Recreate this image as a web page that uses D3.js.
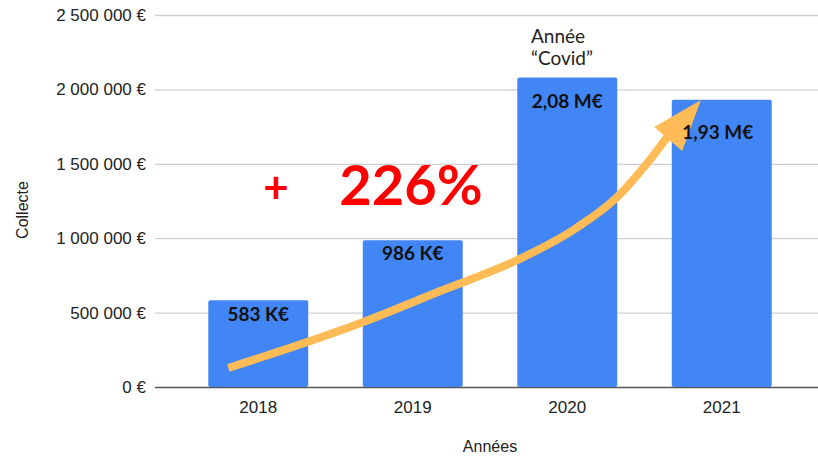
<!DOCTYPE html>
<html lang="fr">
<head>
  <meta charset="UTF-8" />
  <title>Collecte par année</title>
  <style>
    body { margin: 0; background: #fff; }
    svg { display: block; }
    .tick text { font-family: "Liberation Sans", Arial, sans-serif; font-size: 17px; fill: #222; }
  </style>
</head>
<body>
  <svg id="chart"></svg>

  <script src="https://d3js.org/d3.v7.min.js"></script>
  <script>
    const W = 818, H = 456;

    // data
    const years = ["2018", "2019", "2020", "2021"];
    const collecte = [583000, 986000, 2080000, 1930000];
    const barLabels = ["583 K€", "986 K€", "2,08 M€", "1,93 M€"];
    const yTicks = [0, 500000, 1000000, 1500000, 2000000, 2500000];
    // growth arrow, in (year index, euros)
    const arrowPath = [[-0.194, 128000], [0.68, 437000], [1.178, 645000], [1.676, 853000],
                       [2.039, 1055000], [2.324, 1277000], [2.518, 1505000], [2.68, 1727000]];
    const arrowHead = [[2.865, 1929000], [2.563, 1747000], [2.744, 1586000]];

    const plot = {left: 155, right: 818, top: 15, bottom: 387};
    const labelDy = [21, 20, 31, 39];

    const svg = d3.select("#chart").attr("width", W).attr("height", H);

    const x = d3.scaleBand().domain(years).range([181, 799])
      .paddingInner(0.353).paddingOuter(0.1765);
    const y = d3.scaleLinear().domain([0, 2500000]).range([plot.bottom, plot.top]);
    const xi = d3.scaleLinear().domain([0, years.length - 1])
      .range([x(years[0]) + x.bandwidth() / 2, x(years[years.length - 1]) + x.bandwidth() / 2]);

    const fr = d3.formatLocale({decimal: ",", thousands: " ", grouping: [3], currency: ["", " €"]});
    const fmt = v => fr.format(",")(v) + " €";

    // y axis + grid
    const gy = svg.append("g").attr("transform", `translate(${plot.left},0)`)
      .call(d3.axisLeft(y).tickValues(yTicks).tickFormat(fmt)
        .tickSize(-(plot.right - plot.left)).tickPadding(9));
    gy.select(".domain").remove();
    gy.selectAll(".tick line").attr("stroke", "#d0d0d0").attr("stroke-width", 1.3);
    gy.selectAll(".tick").filter(d => d === 0).select("line")
      .attr("stroke", "#555").attr("stroke-width", 1.6);

    // bars
    svg.append("g").selectAll("rect")
      .data(collecte)
      .join("rect")
      .attr("x", (d, i) => x(years[i]))
      .attr("y", d => y(d))
      .attr("width", x.bandwidth())
      .attr("height", d => y(0) - y(d))
      .attr("rx", 2)
      .attr("fill", "#4285f4");

    // x axis labels
    const gx = svg.append("g").attr("transform", `translate(0,${plot.bottom})`)
      .call(d3.axisBottom(x).tickSize(0).tickPadding(14));
    gx.select(".domain").remove();

    // growth arrow
    const line = d3.line().x(d => xi(d[0])).y(d => y(d[1])).curve(d3.curveMonotoneX);
    svg.append("path")
      .attr("d", line(arrowPath))
      .attr("fill", "none")
      .attr("stroke", "#ffbb55")
      .attr("stroke-width", 8);
    svg.append("path")
      .attr("d", "M" + arrowHead.map(d => [xi(d[0]), y(d[1])].join(",")).join("L") + "Z")
      .attr("fill", "#ffbb55");

    // labels in bars
    svg.append("g").selectAll("text")
      .data(barLabels)
      .join("text")
      .attr("x", (d, i) => x(years[i]) + x.bandwidth() / 2 - (i === 3 ? 4 : 0))
      .attr("y", (d, i) => y(collecte[i]) + labelDy[i])
      .attr("text-anchor", "middle")
      .attr("font-family", "Lato, sans-serif")
      .attr("font-weight", 700)
      .attr("font-size", 19)
      .attr("fill", "#111")
      .text(d => d);

    // annotations
    const covid = svg.append("text")
      .attr("font-family", "Lato, sans-serif")
      .attr("font-size", 19)
      .attr("fill", "#222");
    covid.append("tspan").attr("x", 531).attr("y", 43).text("Année");
    covid.append("tspan").attr("x", 531).attr("y", 65).text("“Covid”");

    svg.append("text")
      .attr("x", 276).attr("y", 203)
      .attr("text-anchor", "middle")
      .attr("font-family", "Lato, sans-serif")
      .attr("font-weight", 700)
      .attr("font-size", 44)
      .attr("fill", "#ff0000")
      .text("+");
    svg.append("text")
      .attr("x", 411).attr("y", 205)
      .attr("text-anchor", "middle")
      .attr("font-family", "Lato, sans-serif")
      .attr("font-weight", 700)
      .attr("font-size", 56)
      .attr("fill", "#ff0000")
      .text("226%");

    // axis titles
    svg.append("text")
      .attr("x", 490).attr("y", 452)
      .attr("text-anchor", "middle")
      .attr("font-family", "Liberation Sans, Arial, sans-serif")
      .attr("font-size", 16)
      .attr("fill", "#222")
      .text("Années");
    svg.append("text")
      .attr("transform", "translate(28,210) rotate(-90)")
      .attr("text-anchor", "middle")
      .attr("font-family", "Liberation Sans, Arial, sans-serif")
      .attr("font-size", 16)
      .attr("fill", "#222")
      .text("Collecte");
  </script>
</body>
</html>
